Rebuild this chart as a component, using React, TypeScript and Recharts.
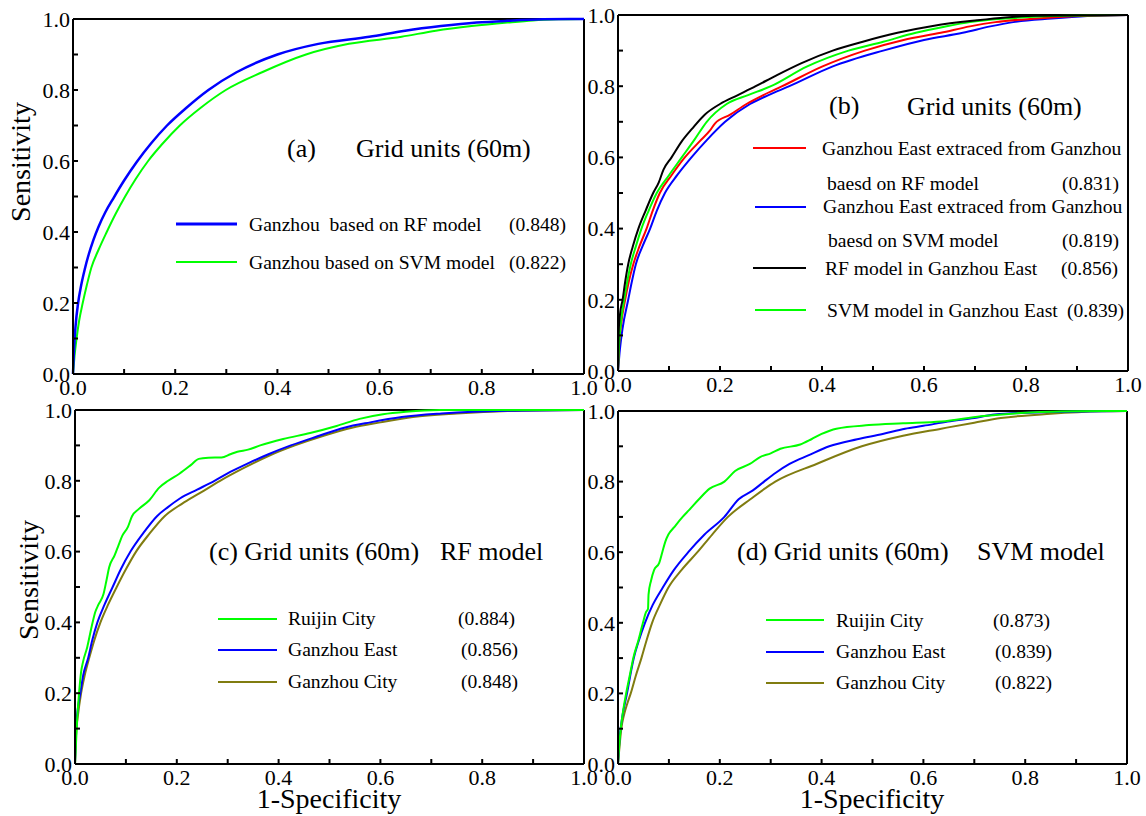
import React from 'react';
import { LineChart, Line, XAxis, YAxis, ReferenceLine, Legend } from 'recharts';

const FONT = '"Liberation Serif", "Times New Roman", serif';
const TICKS = [0, 0.1, 0.2, 0.3, 0.4, 0.5, 0.6, 0.7, 0.8, 0.9, 1];

// ---- (a) Ganzhou, whole area ----
const aRfFpr = [0, 0.002, 0.005, 0.010, 0.016, 0.023, 0.031, 0.040, 0.050, 0.063, 0.079, 0.100, 0.125, 0.153, 0.184, 0.222, 0.265, 0.320, 0.400, 0.480, 0.580, 0.650, 0.720, 0.790, 0.850, 0.920, 1.0];
const aRfTpr = [0, 0.07, 0.135, 0.20, 0.25, 0.295, 0.338, 0.378, 0.415, 0.455, 0.495, 0.545, 0.598, 0.65, 0.70, 0.75, 0.80, 0.85, 0.90, 0.93, 0.95, 0.967, 0.98, 0.99, 0.995, 0.999, 1.0];
const aSvmFpr = [0, 0.003, 0.007, 0.012, 0.019, 0.027, 0.036, 0.050, 0.066, 0.083, 0.102, 0.123, 0.147, 0.176, 0.209, 0.250, 0.299, 0.370, 0.456, 0.540, 0.643, 0.710, 0.780, 0.850, 0.900, 0.950, 1.0];
const aSvmTpr = [0, 0.05, 0.10, 0.15, 0.20, 0.25, 0.30, 0.35, 0.40, 0.45, 0.50, 0.55, 0.60, 0.65, 0.70, 0.75, 0.80, 0.85, 0.90, 0.93, 0.95, 0.967, 0.98, 0.99, 0.996, 0.999, 1.0];
const aNames = ['Ganzhou  based on RF model', 'Ganzhou based on SVM model'];
const aAuc = [0.848, 0.822];

// ---- (b) Ganzhou East ----
const bRfExtFpr = [0, 0.002, 0.006, 0.014, 0.021, 0.030, 0.042, 0.056, 0.068, 0.082, 0.105, 0.131, 0.160, 0.180, 0.190, 0.220, 0.252, 0.285, 0.322, 0.400, 0.484, 0.560, 0.633, 0.690, 0.740, 0.820, 0.900, 1.0];
const bRfExtTpr = [0, 0.07, 0.13, 0.20, 0.25, 0.30, 0.35, 0.40, 0.45, 0.50, 0.55, 0.60, 0.645, 0.675, 0.695, 0.72, 0.75, 0.775, 0.80, 0.855, 0.90, 0.93, 0.95, 0.968, 0.98, 0.99, 0.997, 1.0];
const bSvmExtFpr = [0, 0.003, 0.009, 0.020, 0.027, 0.035, 0.048, 0.063, 0.076, 0.092, 0.116, 0.144, 0.175, 0.210, 0.259, 0.295, 0.336, 0.420, 0.520, 0.600, 0.676, 0.730, 0.775, 0.850, 0.920, 1.0];
const bSvmExtTpr = [0, 0.05, 0.12, 0.20, 0.25, 0.30, 0.35, 0.40, 0.45, 0.50, 0.55, 0.60, 0.65, 0.70, 0.75, 0.775, 0.80, 0.855, 0.90, 0.93, 0.95, 0.968, 0.98, 0.99, 0.997, 1.0];
const bRfEastFpr = [0, 0.001, 0.004, 0.009, 0.014, 0.020, 0.029, 0.040, 0.054, 0.069, 0.080, 0.089, 0.105, 0.125, 0.145, 0.170, 0.200, 0.235, 0.270, 0.310, 0.360, 0.421, 0.480, 0.548, 0.620, 0.704, 0.760, 0.820, 1.0];
const bRfEastTpr = [0, 0.10, 0.16, 0.20, 0.25, 0.30, 0.35, 0.40, 0.45, 0.50, 0.53, 0.565, 0.60, 0.645, 0.68, 0.72, 0.75, 0.775, 0.80, 0.83, 0.865, 0.90, 0.925, 0.95, 0.97, 0.985, 0.993, 0.998, 1.0];
const bSvmEastFpr = [0, 0.002, 0.006, 0.012, 0.018, 0.025, 0.035, 0.046, 0.060, 0.076, 0.100, 0.125, 0.150, 0.174, 0.213, 0.255, 0.300, 0.370, 0.452, 0.520, 0.584, 0.640, 0.690, 0.760, 0.850, 1.0];
const bSvmEastTpr = [0, 0.07, 0.14, 0.20, 0.25, 0.30, 0.35, 0.40, 0.45, 0.50, 0.55, 0.60, 0.65, 0.70, 0.75, 0.775, 0.80, 0.855, 0.90, 0.925, 0.95, 0.967, 0.98, 0.99, 0.997, 1.0];
const bNames = [
  'Ganzhou East extraced from Ganzhou\nbaesd on RF model',
  'Ganzhou East extraced from Ganzhou\nbaesd on SVM model',
  'RF model in Ganzhou East',
  'SVM model in Ganzhou East',
];
const bAuc = [0.831, 0.819, 0.856, 0.839];

// ---- (c) RF model by area ----
const cRuijinFpr = [0, 0.004, 0.008, 0.012, 0.016, 0.024, 0.033, 0.040, 0.046, 0.056, 0.062, 0.067, 0.078, 0.086, 0.093, 0.104, 0.112, 0.125, 0.146, 0.165, 0.183, 0.205, 0.228, 0.243, 0.262, 0.288, 0.305, 0.319, 0.340, 0.364, 0.409, 0.462, 0.514, 0.559, 0.605, 0.650, 0.717, 1.0];
const cRuijinTpr = [0, 0.12, 0.20, 0.26, 0.29, 0.33, 0.39, 0.43, 0.45, 0.48, 0.52, 0.555, 0.59, 0.62, 0.645, 0.67, 0.70, 0.72, 0.745, 0.78, 0.80, 0.82, 0.845, 0.862, 0.865, 0.866, 0.875, 0.882, 0.888, 0.90, 0.918, 0.935, 0.955, 0.975, 0.988, 0.995, 1.0, 1.0];
const cEastFpr = [0, 0.002, 0.005, 0.0105, 0.016, 0.026, 0.034, 0.044, 0.058, 0.074, 0.090, 0.109, 0.133, 0.161, 0.182, 0.206, 0.240, 0.274, 0.305, 0.341, 0.380, 0.424, 0.475, 0.529, 0.580, 0.642, 0.720, 0.850, 1.0];
const cEastTpr = [0, 0.10, 0.15, 0.20, 0.25, 0.30, 0.35, 0.40, 0.45, 0.50, 0.55, 0.60, 0.65, 0.70, 0.725, 0.75, 0.775, 0.80, 0.825, 0.85, 0.875, 0.90, 0.925, 0.95, 0.965, 0.98, 0.99, 0.998, 1.0];
const cCityFpr = [0, 0.002, 0.006, 0.012, 0.019, 0.028, 0.038, 0.050, 0.065, 0.082, 0.100, 0.120, 0.146, 0.176, 0.210, 0.245, 0.285, 0.330, 0.380, 0.432, 0.490, 0.544, 0.600, 0.664, 0.750, 0.850, 1.0];
const cCityTpr = [0, 0.08, 0.14, 0.20, 0.25, 0.30, 0.35, 0.40, 0.45, 0.50, 0.55, 0.60, 0.65, 0.70, 0.735, 0.765, 0.80, 0.835, 0.87, 0.90, 0.928, 0.95, 0.965, 0.98, 0.99, 0.997, 1.0];
const cNames = ['Ruijin City', 'Ganzhou East', 'Ganzhou City'];
const cAuc = [0.884, 0.856, 0.848];

// ---- (d) SVM model by area ----
const dRuijinFpr = [0, 0.004, 0.010, 0.016, 0.023, 0.030, 0.040, 0.049, 0.055, 0.059, 0.060, 0.065, 0.071, 0.081, 0.087, 0.093, 0.099, 0.110, 0.127, 0.140, 0.159, 0.180, 0.209, 0.230, 0.259, 0.280, 0.300, 0.319, 0.358, 0.380, 0.400, 0.429, 0.493, 0.560, 0.635, 0.713, 0.800, 0.900, 1.0];
const dRuijinTpr = [0, 0.08, 0.15, 0.20, 0.25, 0.30, 0.35, 0.40, 0.43, 0.44, 0.48, 0.52, 0.55, 0.57, 0.60, 0.63, 0.65, 0.67, 0.70, 0.72, 0.75, 0.78, 0.80, 0.83, 0.85, 0.87, 0.88, 0.893, 0.905, 0.92, 0.935, 0.95, 0.96, 0.965, 0.97, 0.985, 0.995, 0.999, 1.0];
const dEastFpr = [0, 0.003, 0.008, 0.0177, 0.024, 0.031, 0.041, 0.053, 0.068, 0.088, 0.110, 0.138, 0.170, 0.209, 0.237, 0.265, 0.287, 0.310, 0.337, 0.375, 0.415, 0.470, 0.520, 0.564, 0.600, 0.648, 0.700, 0.740, 0.850, 1.0];
const dEastTpr = [0, 0.07, 0.13, 0.20, 0.25, 0.30, 0.35, 0.40, 0.45, 0.50, 0.55, 0.60, 0.65, 0.70, 0.75, 0.775, 0.80, 0.825, 0.85, 0.875, 0.90, 0.92, 0.935, 0.95, 0.958, 0.97, 0.98, 0.99, 0.997, 1.0];
const dCityFpr = [0, 0.003, 0.0065, 0.012, 0.018, 0.025, 0.035, 0.046, 0.056, 0.067, 0.082, 0.099, 0.125, 0.156, 0.185, 0.216, 0.260, 0.309, 0.390, 0.479, 0.560, 0.635, 0.700, 0.752, 0.850, 0.950, 1.0];
const dCityTpr = [0, 0.05, 0.10, 0.14, 0.17, 0.20, 0.25, 0.30, 0.35, 0.40, 0.45, 0.50, 0.55, 0.60, 0.65, 0.70, 0.75, 0.80, 0.85, 0.90, 0.93, 0.95, 0.967, 0.98, 0.992, 0.999, 1.0];
const dNames = ['Ruijin City', 'Ganzhou East', 'Ganzhou City'];
const dAuc = [0.873, 0.839, 0.822];

const BLUE = '#0000ff';
const GREEN = '#00ff00';
const RED = '#ff0000';
const BLACK = '#000000';
const OLIVE = '#807c10';

type Series = { name: string; auc: number; color: string; width: number; fpr: number[]; tpr: number[] };
type Rect = { x: number; y: number; w: number; h: number };
// Legend row: swatch [x1, x2, y]; name lines [x, baseline]; auc [x, baseline]
type Row = { sw: [number, number, number]; names: [number, number][]; auc: [number, number] };
type Caption = { x: number; y: number; text: string };

const points = (fpr: number[], tpr: number[]) => fpr.map((x, i) => ({ x, y: tpr[i] }));
const fmtTick = (v: number) => (Math.round(v * 10) % 2 === 0 ? v.toFixed(1) : '');

const PAD_L = 75;
const PAD_T = 20;
const PAD_R = 30;
const PAD_B = 60;

const axisCommon = {
  type: 'number' as const,
  domain: [0, 1] as [number, number],
  ticks: TICKS,
  interval: 0 as const,
  tickFormatter: fmtTick,
  tickSize: -5,
  axisLine: { stroke: '#000', strokeWidth: 2 },
  tickLine: { stroke: '#000', strokeWidth: 2 },
  tick: { fill: '#000', fontSize: 22, fontFamily: FONT },
};

function Panel(props: {
  rect: Rect;
  series: Series[];
  order: number[];
  rows: Row[];
  captions: Caption[];
  yTitle?: [number, number];
  xTitle?: [number, number];
}) {
  const { rect, series, order, rows, captions, yTitle, xTitle } = props;
  const ox = rect.x - PAD_L;
  const oy = rect.y - PAD_T;
  const W = rect.w + PAD_L + PAD_R;
  const H = rect.h + PAD_T + PAD_B;

  const overlay = () => (
    <svg width={W} height={H} style={{ overflow: 'visible', display: 'block' }}>
      <g transform={`translate(${-ox},${-oy})`} fontFamily={FONT} fill="#000">
        {captions.map((c, i) => (
          <text key={'c' + i} x={c.x} y={c.y} fontSize={26} style={{ whiteSpace: 'pre' }}>
            {c.text}
          </text>
        ))}
        {rows.map((r, i) => {
          const s = series[i];
          const lines = s.name.split('\n');
          return (
            <g key={'r' + i}>
              <line x1={r.sw[0]} x2={r.sw[1]} y1={r.sw[2]} y2={r.sw[2]} stroke={s.color} strokeWidth={s.width + (s.width > 2 ? 0.5 : 0)} />
              {lines.map((ln, j) => (
                <text key={j} x={r.names[j][0]} y={r.names[j][1]} fontSize={19.6} style={{ whiteSpace: 'pre' }}>
                  {ln}
                </text>
              ))}
              <text x={r.auc[0]} y={r.auc[1]} fontSize={19.6}>{`(${s.auc.toFixed(3)})`}</text>
            </g>
          );
        })}
      </g>
    </svg>
  );

  return (
    <div style={{ position: 'absolute', left: ox, top: oy }}>
      <LineChart width={W} height={H} margin={{ top: PAD_T, right: PAD_R, bottom: 0, left: 0 }}>
        <XAxis
          {...axisCommon}
          dataKey="x"
          height={PAD_B}
          tickMargin={10}
          label={
            xTitle
              ? {
                  content: () => (
                    <text x={xTitle[0] - ox} y={xTitle[1] - oy} textAnchor="middle" fontSize={28} fontFamily={FONT} fill="#000">
                      1-Specificity
                    </text>
                  ),
                }
              : undefined
          }
        />
        <YAxis
          {...axisCommon}
          dataKey="y"
          width={PAD_L}
          tickMargin={8}
          label={
            yTitle
              ? {
                  content: () => (
                    <text
                      transform={`translate(${yTitle[0] - ox},${yTitle[1] - oy}) rotate(-90)`}
                      textAnchor="middle"
                      fontSize={28}
                      fontFamily={FONT}
                      fill="#000"
                    >
                      Sensitivity
                    </text>
                  ),
                }
              : undefined
          }
        />
        <ReferenceLine y={1} stroke="#000" strokeWidth={2} />
        <ReferenceLine x={1} stroke="#000" strokeWidth={2} />
        {order.map((k) => {
          const s = series[k];
          return (
            <Line
              key={s.name}
              name={s.name}
              data={points(s.fpr, s.tpr)}
              dataKey="y"
              type="monotone"
              stroke={s.color}
              strokeWidth={s.width}
              dot={false}
              activeDot={false}
              isAnimationActive={false}
            />
          );
        })}
        <Legend
          layout="horizontal"
          verticalAlign="middle"
          align="center"
          content={overlay}
          wrapperStyle={{ left: 0, top: 0, width: W, height: H, margin: 0, pointerEvents: 'none' }}
        />
      </LineChart>
    </div>
  );
}

const seriesA: Series[] = [
  { name: aNames[0], auc: aAuc[0], color: BLUE, width: 2.5, fpr: aRfFpr, tpr: aRfTpr },
  { name: aNames[1], auc: aAuc[1], color: GREEN, width: 2, fpr: aSvmFpr, tpr: aSvmTpr },
];
const seriesB: Series[] = [
  { name: bNames[0], auc: bAuc[0], color: RED, width: 2, fpr: bRfExtFpr, tpr: bRfExtTpr },
  { name: bNames[1], auc: bAuc[1], color: BLUE, width: 2, fpr: bSvmExtFpr, tpr: bSvmExtTpr },
  { name: bNames[2], auc: bAuc[2], color: BLACK, width: 2, fpr: bRfEastFpr, tpr: bRfEastTpr },
  { name: bNames[3], auc: bAuc[3], color: GREEN, width: 2, fpr: bSvmEastFpr, tpr: bSvmEastTpr },
];
const seriesC: Series[] = [
  { name: cNames[0], auc: cAuc[0], color: GREEN, width: 2, fpr: cRuijinFpr, tpr: cRuijinTpr },
  { name: cNames[1], auc: cAuc[1], color: BLUE, width: 2, fpr: cEastFpr, tpr: cEastTpr },
  { name: cNames[2], auc: cAuc[2], color: OLIVE, width: 2, fpr: cCityFpr, tpr: cCityTpr },
];
const seriesD: Series[] = [
  { name: dNames[0], auc: dAuc[0], color: GREEN, width: 2, fpr: dRuijinFpr, tpr: dRuijinTpr },
  { name: dNames[1], auc: dAuc[1], color: BLUE, width: 2, fpr: dEastFpr, tpr: dEastTpr },
  { name: dNames[2], auc: dAuc[2], color: OLIVE, width: 2, fpr: dCityFpr, tpr: dCityTpr },
];

export default function App() {
  return (
    <div
      style={{
        position: 'absolute',
        left: 0,
        top: 0,
        width: 1146,
        height: 816,
        overflow: 'hidden',
        background: '#fff',
      }}
    >
      <Panel
        rect={{ x: 73, y: 19, w: 511, h: 355 }}
        series={seriesA}
        order={[1, 0]}
        captions={[
          { x: 287, y: 157, text: '(a)' },
          { x: 356, y: 157, text: 'Grid units (60m)' },
        ]}
        rows={[
          { sw: [176, 237, 224], names: [[249, 231]], auc: [509, 231] },
          { sw: [176, 237, 262], names: [[249, 269]], auc: [509, 269] },
        ]}
        yTitle={[30, 162]}
      />
      <Panel
        rect={{ x: 618, y: 15, w: 510, h: 356 }}
        series={seriesB}
        order={[1, 0, 3, 2]}
        captions={[
          { x: 829, y: 114, text: '(b)' },
          { x: 907, y: 115, text: 'Grid units (60m)' },
        ]}
        rows={[
          { sw: [753, 806, 148], names: [[822, 155], [827, 190]], auc: [1062, 190] },
          { sw: [755, 806, 207], names: [[823, 213], [828, 247]], auc: [1062, 247] },
          { sw: [753, 806, 268], names: [[825, 275]], auc: [1061, 275] },
          { sw: [755, 806, 310], names: [[827, 317]], auc: [1067, 317] },
        ]}
      />
      <Panel
        rect={{ x: 75, y: 410, w: 509, h: 354 }}
        series={seriesC}
        order={[2, 1, 0]}
        captions={[
          { x: 209, y: 560, text: '(c) Grid units (60m)' },
          { x: 440, y: 560, text: 'RF model' },
        ]}
        rows={[
          { sw: [218, 277, 619], names: [[288, 625]], auc: [458, 625] },
          { sw: [218, 277, 650], names: [[288, 656]], auc: [461, 656] },
          { sw: [218, 277, 682], names: [[288, 688]], auc: [461, 688] },
        ]}
        yTitle={[38, 580]}
        xTitle={[329, 808]}
      />
      <Panel
        rect={{ x: 618, y: 411, w: 509, h: 353 }}
        series={seriesD}
        order={[2, 1, 0]}
        captions={[
          { x: 737, y: 560, text: '(d) Grid units (60m)' },
          { x: 977, y: 560, text: 'SVM model' },
        ]}
        rows={[
          { sw: [766, 824, 620], names: [[836, 627]], auc: [993, 627] },
          { sw: [766, 824, 652], names: [[836, 658]], auc: [995, 658] },
          { sw: [766, 824, 683], names: [[836, 689]], auc: [995, 689] },
        ]}
        xTitle={[872, 808]}
      />
    </div>
  );
}
